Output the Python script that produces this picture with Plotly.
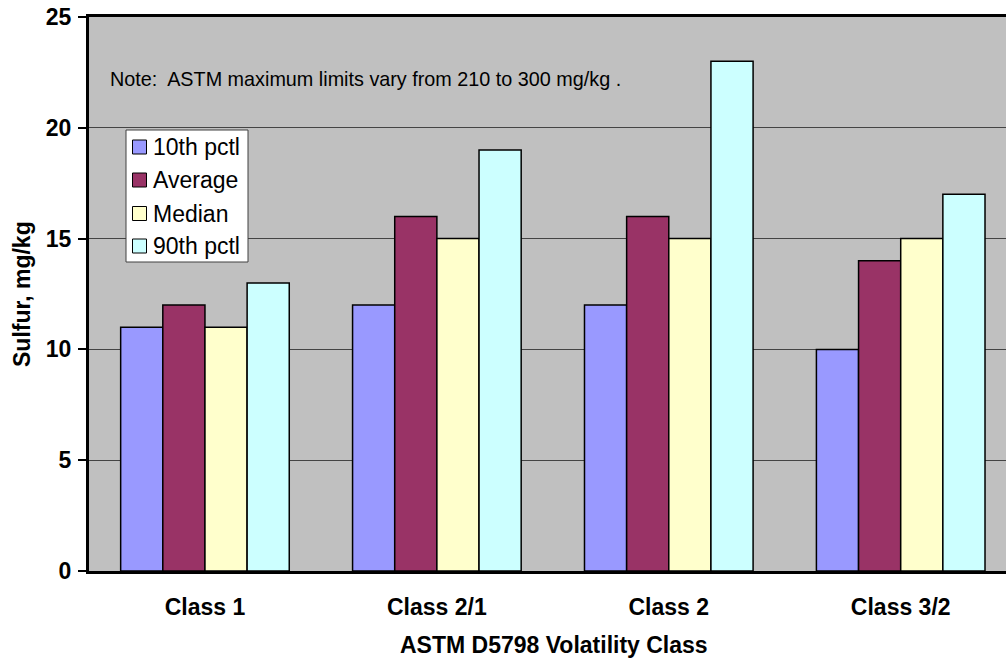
import plotly.graph_objects as go

categories = ["Class 1", "Class 2/1", "Class 2", "Class 3/2"]
series_names = ["10th pctl", "Average", "Median", "90th pctl"]
pct10 = [11, 12, 12, 10]
average = [12, 16, 16, 14]
median = [11, 15, 15, 15]
pct90 = [13, 19, 23, 17]
colors = ["#9999FF", "#993366", "#FFFFCC", "#CCFFFF"]
y_ticks = [0, 5, 10, 15, 20, 25]

FONT = "Liberation Sans, Arial, sans-serif"

# page body margin is removed below, so geometry is in window pixels
W, H = 1006, 662
L, R, T, B = 89, 1006, 17, 571
def px(x):
    return (x - L) / (R - L)
def py(y):
    return (B - y) / (B - T)

fig = go.Figure()
for name, vals, col in zip(series_names, [pct10, average, median, pct90], colors):
    fig.add_trace(go.Bar(
        x=categories, y=vals, name=name,
        marker=dict(color=col, line=dict(color="black", width=1.5)),
        showlegend=False,
    ))

# custom legend box (spreadsheet-style legend)
shapes = [dict(type="rect", xref="paper", yref="paper",
               x0=px(126), x1=px(248), y0=py(130), y1=py(262),
               fillcolor="white", line=dict(color="#404040", width=1), layer="above")]
annotations = []
row_centers = [147, 180, 213.5, 246]
for name, col, yc in zip(series_names, colors, row_centers):
    shapes.append(dict(type="rect", xref="paper", yref="paper",
                       x0=px(132.5), x1=px(146.5), y0=py(yc - 7), y1=py(yc + 7),
                       fillcolor=col, line=dict(color="black", width=1), layer="above"))
    annotations.append(dict(text=name, xref="paper", yref="paper",
                            x=px(151), y=py(yc), xanchor="left", yanchor="middle",
                            showarrow=False,
                            font=dict(size=23, family=FONT, color="black")))

annotations.append(dict(
    text="Note:  ASTM maximum limits vary from 210 to 300 mg/kg .",
    xref="paper", yref="paper", x=px(108), y=py(79),
    xanchor="left", yanchor="middle", showarrow=False,
    font=dict(size=19.8, family=FONT, color="black"),
))
annotations.append(dict(
    text="<b>ASTM D5798 Volatility Class</b>",
    xref="paper", yref="paper", x=px(553.5), y=py(645),
    xanchor="center", yanchor="middle", showarrow=False,
    font=dict(size=23, family=FONT, color="black"),
))
annotations.append(dict(
    text="<b>Sulfur, mg/kg</b>",
    xref="paper", yref="paper", x=px(22), y=py(294), textangle=-90,
    xanchor="center", yanchor="middle", showarrow=False,
    font=dict(size=23, family=FONT, color="black"),
))

fig.update_layout(
    width=W, height=H,
    margin=dict(l=L, r=W - R, t=T, b=H - B),
    paper_bgcolor="white",
    plot_bgcolor="#C0C0C0",
    barmode="group",
    bargap=0.273,
    bargroupgap=0,
    font=dict(family=FONT, color="black"),
    showlegend=False,
    shapes=shapes,
    annotations=annotations,
)

fig.update_xaxes(
    range=[-0.5, 3.454], automargin=False,
    showline=True, linecolor="black", linewidth=3, mirror=True,
    showgrid=False, ticks="",
    tickfont=dict(size=23, family=FONT, weight="bold"),
    ticklabelstandoff=13,
)
fig.update_yaxes(
    range=[0, 25], tickvals=y_ticks, automargin=False,
    showline=True, linecolor="black", linewidth=3,
    showgrid=True, gridcolor="#444444", gridwidth=1,
    ticks="outside", ticklen=8, tickwidth=2, tickcolor="black",
    tickfont=dict(size=23, family=FONT, weight="bold"),
    ticklabelstandoff=2, ticklabeloverflow="allow",
    zeroline=False,
)

fig.write_html(
    "out.html",
    config={"displayModeBar": False},
    post_script="document.body.style.margin='0';document.body.style.overflow='hidden';",
)
